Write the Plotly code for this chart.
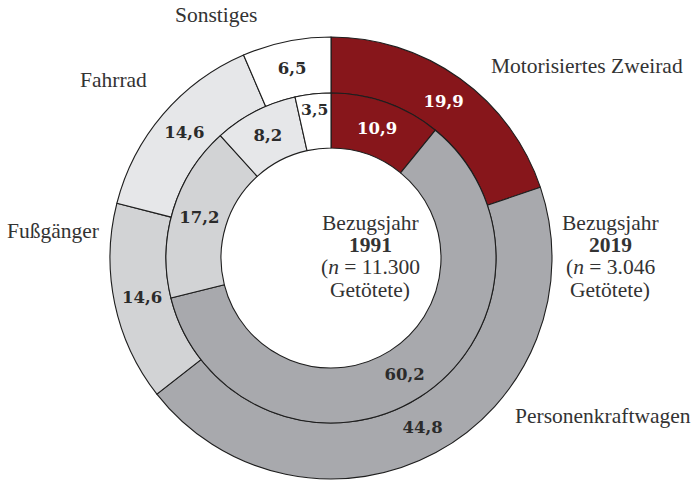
import plotly.graph_objects as go

categories = ["Motorisiertes Zweirad", "Personenkraftwagen", "Fußgänger", "Fahrrad", "Sonstiges"]
values_1991 = [10.9, 60.2, 17.2, 8.2, 3.5]
values_2019 = [19.9, 44.8, 14.6, 14.6, 6.5]
colors = ["#87161B", "#A8A9AD", "#D2D3D5", "#E6E7E9", "#FFFFFF"]
text_colors = ["#FFFFFF", "#2B2B2B", "#2B2B2B", "#2B2B2B", "#2B2B2B"]

W, H = 695, 487
cx, cy = 331, 258          # centre in screen pixels
r_out, r_mid, r_in = 221, 165, 110

def fmt(v):
    return f"{v:.1f}".replace(".", ",")

def px(sx):
    return sx / W

def py(sy):
    return 1 - sy / H

def dom(r):
    return dict(x=[px(cx - r), px(cx + r)], y=[py(cy + r), py(cy - r)])

SERIF = "Liberation Serif"
BOLD = "DejaVu Serif"
FS = 21.5

fig = go.Figure()
for vals, r, hole in [(values_2019, r_out, r_mid / r_out), (values_1991, r_mid, r_in / r_mid)]:
    fig.add_trace(go.Pie(
        labels=categories, values=vals, sort=False, direction="clockwise", rotation=0,
        hole=hole, domain=dom(r),
        marker=dict(colors=colors, line=dict(color="#1E1E1E", width=1.1)),
        text=[fmt(v) for v in vals], texttemplate="<b>%{text}</b>",
        textposition="inside", insidetextorientation="horizontal",
        insidetextfont=dict(family=BOLD, size=16.5, color=text_colors),
        hoverinfo="label+value", showlegend=False,
    ))

label_pos = {
    "Motorisiertes Zweirad": (587, 66),
    "Personenkraftwagen": (603, 416),
    "Fußgänger": (53, 231),
    "Fahrrad": (113, 80),
    "Sonstiges": (216, 15),
}
annotations = []
for name, (sx, sy) in label_pos.items():
    annotations.append(dict(x=px(sx), y=py(sy), xref="paper", yref="paper",
                            text=name, showarrow=False, xanchor="center", yanchor="middle",
                            font=dict(family=SERIF, size=FS, color="#333333")))

line_y = [223, 245, 267, 290]
for year, n, sx in [(1991, "11.300", 370), (2019, "3.046", 610)]:
    lines = ["Bezugsjahr", f"<b>{year}</b>", f"(<i>n</i> = {n}", "Getötete)"]
    for t, sy in zip(lines, line_y):
        annotations.append(dict(x=px(sx), y=py(sy), xref="paper", yref="paper",
                                text=t, showarrow=False, xanchor="center", yanchor="middle",
                                font=dict(family=SERIF, size=FS, color="#333333")))

fig.update_layout(
    width=W, height=H, margin=dict(l=0, r=0, t=0, b=0),
    paper_bgcolor="white", plot_bgcolor="white",
    annotations=annotations, showlegend=False,
)
fig.write_html("out.html", config={"displayModeBar": False},
               post_script="document.body.style.margin='0';document.body.style.overflow='hidden';")
